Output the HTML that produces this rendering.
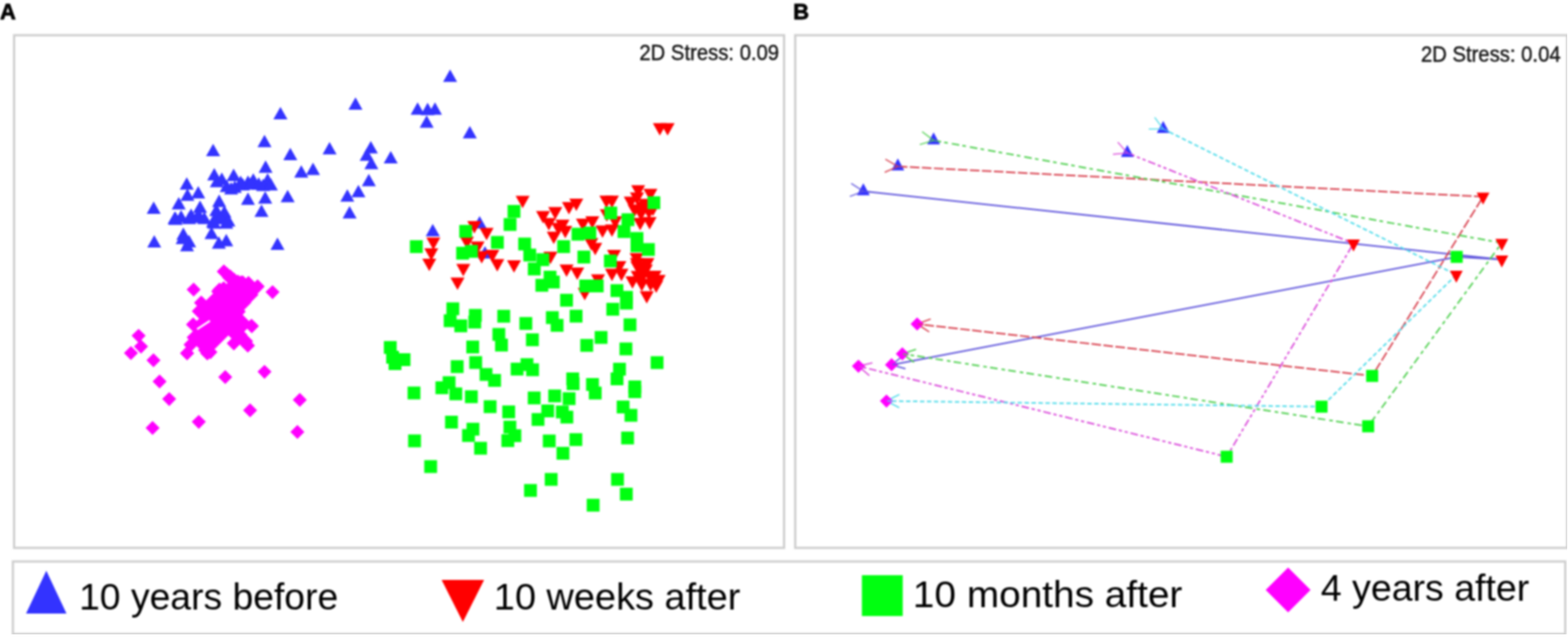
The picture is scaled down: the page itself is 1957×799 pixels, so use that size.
<!DOCTYPE html>
<html><head><meta charset="utf-8"><title>NMDS plots</title>
<style>
html,body{margin:0;padding:0;background:#fff;}
body{width:1957px;height:799px;overflow:hidden;}
svg{display:block;}
text{font-family:"Liberation Sans",Arial,sans-serif;}
</style></head><body>
<svg width="1957" height="799" viewBox="0 0 1957 799">
<rect width="1957" height="799" fill="#fff"/>
<defs><filter id="gb" x="0" y="0" width="100%" height="100%" color-interpolation-filters="sRGB"><feGaussianBlur stdDeviation="0.8"/></filter></defs>
<g filter="url(#gb)">

<text x="0" y="23.6" font-size="27.3" font-weight="bold" fill="#000" stroke="#000" stroke-width="0.9">A</text>
<text x="990" y="23.6" font-size="27.3" font-weight="bold" fill="#000" stroke="#000" stroke-width="0.9">B</text>
<g fill="none" stroke="#cecece" stroke-width="2.8">
<rect x="17.6" y="44" width="961" height="640"/>
<rect x="992.5" y="44" width="963.5" height="640"/>
<rect x="16.1" y="701" width="1937.5" height="90.5"/>
</g>
<g>
<path d="M242.8,378.0 L246.4,381.6 L239.4,388.6 L248.6,397.7 L245.4,400.8 L241.3,396.7 L232.6,405.4 L240.7,413.5 L232.9,421.2 L235.5,423.8 L229.4,429.9 L232.7,433.1 L224.8,441.0 L233.5,449.8 L242.2,441.0 L239.0,437.8 L245.0,431.8 L248.8,435.5 L247.2,437.0 L250.5,440.2 L249.8,441.0 L258.5,449.8 L261.3,447.0 L262.7,448.4 L271.4,439.6 L267.8,436.0 L285.0,418.8 L289.1,422.8 L283.1,428.8 L291.8,437.6 L299.2,430.1 L309.3,440.1 L318.1,431.4 L313.6,427.0 L315.1,425.5 L308.2,418.6 L308.8,418.0 L304.8,414.0 L308.6,410.2 L314.3,415.9 L323.1,407.2 L314.3,398.4 L311.4,401.4 L302.9,392.9 L306.7,389.0 L304.6,386.9 L313.8,377.7 L313.3,377.2 L322.6,368.0 L321.3,366.7 L330.2,357.8 L321.5,349.1 L318.0,352.5 L310.1,344.6 L307.0,347.8 L303.0,343.8 L300.5,346.2 L297.0,342.8 L295.8,344.0 L292.0,340.2 L291.6,340.6 L287.5,336.6 L287.0,337.1 L283.4,333.4 L283.0,333.8 L279.5,330.2 L270.8,339.0 L279.5,347.8 L279.8,347.4 L284.8,352.4 L282.3,354.9 L279.0,351.6 L274.0,356.6 L272.3,354.9 L263.6,363.7 L266.1,366.2 L257.2,375.0 L251.5,369.2Z " fill="#ff00ff"/>
<line x1="246" y1="411" x2="262" y2="400.5" stroke="#fff" stroke-width="2.6"/>
<polygon points="553.0,102.2 570.5,102.2 561.8,86.8" fill="#3333ff"/>
<polygon points="341.2,148.9 358.8,148.9 350.0,133.4" fill="#3333ff"/>
<polygon points="321.4,183.8 338.9,183.8 330.1,168.3" fill="#3333ff"/>
<polygon points="257.2,194.9 274.8,194.9 266.0,179.4" fill="#3333ff"/>
<polygon points="353.6,199.9 371.1,199.9 362.3,184.4" fill="#3333ff"/>
<polygon points="402.6,192.8 420.1,192.8 411.3,177.3" fill="#3333ff"/>
<polygon points="183.1,267.1 200.6,267.1 191.8,251.6" fill="#3333ff"/>
<polygon points="224.3,236.8 241.8,236.8 233.1,221.3" fill="#3333ff"/>
<polygon points="238.7,247.8 256.1,247.8 247.4,232.3" fill="#3333ff"/>
<polygon points="214.3,261.4 231.8,261.4 223.1,245.9" fill="#3333ff"/>
<polygon points="225.2,250.7 242.7,250.7 233.9,235.2" fill="#3333ff"/>
<polygon points="258.6,225.3 276.1,225.3 267.4,209.8" fill="#3333ff"/>
<polygon points="268.1,230.8 285.6,230.8 276.8,215.2" fill="#3333ff"/>
<polygon points="282.9,225.9 300.4,225.9 291.6,210.4" fill="#3333ff"/>
<polygon points="261.9,233.8 279.4,233.8 270.7,218.3" fill="#3333ff"/>
<polygon points="279.8,242.8 297.2,242.8 288.5,227.2" fill="#3333ff"/>
<polygon points="291.6,234.8 309.1,234.8 300.3,219.3" fill="#3333ff"/>
<polygon points="300.8,234.6 318.2,234.6 309.5,219.1" fill="#3333ff"/>
<polygon points="307.4,231.8 324.9,231.8 316.1,216.2" fill="#3333ff"/>
<polygon points="322.8,215.7 340.2,215.7 331.5,200.2" fill="#3333ff"/>
<polygon points="325.2,231.8 342.8,231.8 334.0,216.2" fill="#3333ff"/>
<polygon points="319.6,238.4 337.1,238.4 328.4,222.9" fill="#3333ff"/>
<polygon points="322.2,254.2 339.8,254.2 331.0,238.8" fill="#3333ff"/>
<polygon points="300.8,255.8 318.2,255.8 309.5,240.2" fill="#3333ff"/>
<polygon points="350.2,252.4 367.8,252.4 359.0,236.9" fill="#3333ff"/>
<polygon points="317.6,270.8 335.1,270.8 326.4,255.2" fill="#3333ff"/>
<polygon points="264.8,258.4 282.2,258.4 273.5,242.8" fill="#3333ff"/>
<polygon points="240.9,265.8 258.4,265.8 249.7,250.2" fill="#3333ff"/>
<polygon points="240.8,278.2 258.2,278.2 249.5,262.8" fill="#3333ff"/>
<polygon points="210.2,280.8 227.8,280.8 219.0,265.2" fill="#3333ff"/>
<polygon points="229.8,275.8 247.2,275.8 238.5,260.2" fill="#3333ff"/>
<polygon points="210.1,279.4 227.6,279.4 218.8,263.9" fill="#3333ff"/>
<polygon points="260.4,279.4 277.9,279.4 269.1,263.9" fill="#3333ff"/>
<polygon points="273.6,279.4 291.1,279.4 282.4,263.9" fill="#3333ff"/>
<polygon points="258.4,285.6 275.9,285.6 267.1,270.1" fill="#3333ff"/>
<polygon points="273.6,285.6 291.1,285.6 282.4,270.1" fill="#3333ff"/>
<polygon points="255.2,298.6 272.8,298.6 264.0,283.1" fill="#3333ff"/>
<polygon points="273.6,307.6 291.1,307.6 282.4,292.1" fill="#3333ff"/>
<polygon points="264.4,310.4 281.9,310.4 273.2,294.9" fill="#3333ff"/>
<polygon points="220.1,299.6 237.6,299.6 228.8,284.1" fill="#3333ff"/>
<polygon points="224.7,313.8 242.2,313.8 233.4,298.2" fill="#3333ff"/>
<polygon points="183.8,309.1 201.2,309.1 192.5,293.6" fill="#3333ff"/>
<polygon points="337.6,312.1 355.1,312.1 346.3,296.6" fill="#3333ff"/>
<polygon points="434.9,136.9 452.4,136.9 443.7,121.4" fill="#3333ff"/>
<polygon points="512.5,143.2 530.0,143.2 521.2,127.8" fill="#3333ff"/>
<polygon points="525.0,143.7 542.5,143.7 533.7,128.2" fill="#3333ff"/>
<polygon points="534.1,143.2 551.6,143.2 542.9,127.8" fill="#3333ff"/>
<polygon points="523.8,159.6 541.2,159.6 532.5,144.1" fill="#3333ff"/>
<polygon points="577.6,172.7 595.1,172.7 586.4,157.2" fill="#3333ff"/>
<polygon points="454.1,191.4 471.6,191.4 462.8,175.9" fill="#3333ff"/>
<polygon points="448.9,200.8 466.4,200.8 457.7,185.2" fill="#3333ff"/>
<polygon points="478.9,203.9 496.4,203.9 487.7,188.4" fill="#3333ff"/>
<polygon points="367.2,221.7 384.8,221.7 376.0,206.2" fill="#3333ff"/>
<polygon points="381.9,218.4 399.4,218.4 390.7,202.9" fill="#3333ff"/>
<polygon points="454.8,211.2 472.2,211.2 463.5,195.8" fill="#3333ff"/>
<polygon points="451.6,232.6 469.1,232.6 460.3,217.1" fill="#3333ff"/>
<polygon points="438.6,246.2 456.1,246.2 447.3,230.8" fill="#3333ff"/>
<polygon points="424.8,251.7 442.2,251.7 433.5,236.2" fill="#3333ff"/>
<polygon points="427.6,272.8 445.1,272.8 436.3,257.2" fill="#3333ff"/>
<polygon points="531.4,295.1 548.9,295.1 540.1,279.6" fill="#3333ff"/>
<polygon points="589.9,285.2 607.4,285.2 598.6,269.8" fill="#3333ff"/>
<polygon points="596.5,322.8 614.0,322.8 605.3,307.2" fill="#3333ff"/>
<polygon points="209.2,279.8 226.8,279.8 218.0,264.2" fill="#3333ff"/>
<polygon points="217.2,277.8 234.8,277.8 226.0,262.2" fill="#3333ff"/>
<polygon points="227.2,279.8 244.8,279.8 236.0,264.2" fill="#3333ff"/>
<polygon points="237.2,277.8 254.8,277.8 246.0,262.2" fill="#3333ff"/>
<polygon points="246.2,279.8 263.8,279.8 255.0,264.2" fill="#3333ff"/>
<polygon points="261.2,269.8 278.8,269.8 270.0,254.2" fill="#3333ff"/>
<polygon points="271.2,271.8 288.8,271.8 280.0,256.2" fill="#3333ff"/>
<polygon points="266.2,279.8 283.8,279.8 275.0,264.2" fill="#3333ff"/>
<polygon points="276.2,282.8 293.8,282.8 285.0,267.2" fill="#3333ff"/>
<polygon points="257.2,283.8 274.8,283.8 266.0,268.2" fill="#3333ff"/>
<polygon points="274.2,239.8 291.8,239.8 283.0,224.2" fill="#3333ff"/>
<polygon points="284.2,240.8 301.8,240.8 293.0,225.2" fill="#3333ff"/>
<polygon points="294.2,237.8 311.8,237.8 303.0,222.2" fill="#3333ff"/>
<polygon points="304.2,236.8 321.8,236.8 313.0,221.2" fill="#3333ff"/>
<polygon points="314.2,236.8 331.8,236.8 323.0,221.2" fill="#3333ff"/>
<polygon points="329.2,237.8 346.8,237.8 338.0,222.2" fill="#3333ff"/>
<polygon points="227.2,308.8 244.8,308.8 236.0,293.2" fill="#3333ff"/>
<polygon points="219.2,304.8 236.8,304.8 228.0,289.2" fill="#3333ff"/>
<polygon points="814.8,153.8 832.2,153.8 823.5,169.2" fill="#ff0000"/>
<polygon points="824.5,153.8 842.0,153.8 833.2,169.2" fill="#ff0000"/>
<polygon points="643.5,244.4 661.0,244.4 652.3,259.9" fill="#ff0000"/>
<polygon points="669.0,263.6 686.5,263.6 677.8,279.1" fill="#ff0000"/>
<polygon points="684.2,258.6 701.8,258.6 693.0,274.1" fill="#ff0000"/>
<polygon points="682.4,289.2 699.9,289.2 691.1,304.8" fill="#ff0000"/>
<polygon points="532.1,296.4 549.6,296.4 540.9,311.9" fill="#ff0000"/>
<polygon points="583.2,276.1 600.8,276.1 592.0,291.6" fill="#ff0000"/>
<polygon points="598.5,284.6 616.0,284.6 607.3,300.1" fill="#ff0000"/>
<polygon points="574.0,295.4 591.5,295.4 582.8,310.9" fill="#ff0000"/>
<polygon points="587.2,301.6 604.8,301.6 596.0,317.1" fill="#ff0000"/>
<polygon points="529.5,310.1 547.0,310.1 538.3,325.6" fill="#ff0000"/>
<polygon points="527.0,322.9 544.5,322.9 535.8,338.4" fill="#ff0000"/>
<polygon points="569.5,329.6 587.0,329.6 578.2,345.1" fill="#ff0000"/>
<polygon points="562.2,346.6 579.8,346.6 571.0,362.1" fill="#ff0000"/>
<polygon points="592.5,313.4 610.0,313.4 601.2,328.9" fill="#ff0000"/>
<polygon points="605.8,312.1 623.2,312.1 614.5,327.6" fill="#ff0000"/>
<polygon points="611.9,323.6 629.4,323.6 620.6,339.1" fill="#ff0000"/>
<polygon points="632.8,324.9 650.2,324.9 641.5,340.4" fill="#ff0000"/>
<polygon points="678.2,314.2 695.8,314.2 687.0,329.8" fill="#ff0000"/>
<polygon points="710.5,247.9 728.0,247.9 719.3,263.4" fill="#ff0000"/>
<polygon points="701.4,252.2 718.9,252.2 710.1,267.8" fill="#ff0000"/>
<polygon points="676.2,272.2 693.8,272.2 685.0,287.8" fill="#ff0000"/>
<polygon points="748.1,244.2 765.6,244.2 756.9,259.8" fill="#ff0000"/>
<polygon points="755.0,244.2 772.5,244.2 763.8,259.8" fill="#ff0000"/>
<polygon points="787.8,231.2 805.2,231.2 796.5,246.8" fill="#ff0000"/>
<polygon points="803.0,235.8 820.5,235.8 811.8,251.3" fill="#ff0000"/>
<polygon points="778.5,245.6 796.0,245.6 787.3,261.1" fill="#ff0000"/>
<polygon points="792.9,251.9 810.4,251.9 801.6,267.4" fill="#ff0000"/>
<polygon points="802.0,271.1 819.5,271.1 810.8,286.6" fill="#ff0000"/>
<polygon points="790.2,271.9 807.8,271.9 799.0,287.4" fill="#ff0000"/>
<polygon points="748.6,261.2 766.1,261.2 757.4,276.8" fill="#ff0000"/>
<polygon points="730.5,269.9 748.0,269.9 739.3,285.4" fill="#ff0000"/>
<polygon points="718.8,272.9 736.2,272.9 727.5,288.4" fill="#ff0000"/>
<polygon points="743.2,281.4 760.8,281.4 752.0,296.9" fill="#ff0000"/>
<polygon points="755.0,280.2 772.5,280.2 763.8,295.8" fill="#ff0000"/>
<polygon points="759.1,269.9 776.6,269.9 767.9,285.4" fill="#ff0000"/>
<polygon points="696.8,282.1 714.2,282.1 705.5,297.6" fill="#ff0000"/>
<polygon points="734.1,303.2 751.6,303.2 742.9,318.8" fill="#ff0000"/>
<polygon points="729.2,297.2 746.8,297.2 738.0,312.8" fill="#ff0000"/>
<polygon points="698.4,330.2 715.9,330.2 707.1,345.8" fill="#ff0000"/>
<polygon points="711.6,334.1 729.1,334.1 720.4,349.6" fill="#ff0000"/>
<polygon points="737.6,342.6 755.1,342.6 746.4,358.1" fill="#ff0000"/>
<polygon points="757.6,311.9 775.1,311.9 766.4,327.4" fill="#ff0000"/>
<polygon points="764.2,325.9 781.8,325.9 773.0,341.4" fill="#ff0000"/>
<polygon points="755.0,335.6 772.5,335.6 763.8,351.1" fill="#ff0000"/>
<polygon points="766.9,335.6 784.4,335.6 775.6,351.1" fill="#ff0000"/>
<polygon points="808.2,337.9 825.8,337.9 817.0,353.4" fill="#ff0000"/>
<polygon points="810.2,350.2 827.8,350.2 819.0,365.8" fill="#ff0000"/>
<polygon points="780.6,345.1 798.1,345.1 789.4,360.6" fill="#ff0000"/>
<polygon points="791.9,341.1 809.4,341.1 800.6,356.6" fill="#ff0000"/>
<polygon points="786.8,326.2 804.2,326.2 795.5,341.8" fill="#ff0000"/>
<polygon points="796.0,326.2 813.5,326.2 804.7,341.8" fill="#ff0000"/>
<polygon points="785.8,315.9 803.2,315.9 794.5,331.4" fill="#ff0000"/>
<polygon points="798.5,363.4 816.0,363.4 807.2,378.9" fill="#ff0000"/>
<polygon points="721.0,359.6 738.5,359.6 729.8,375.1" fill="#ff0000"/>
<polygon points="786.2,240.2 803.8,240.2 795.0,255.8" fill="#ff0000"/>
<polygon points="796.2,248.2 813.8,248.2 805.0,263.8" fill="#ff0000"/>
<polygon points="791.2,260.2 808.8,260.2 800.0,275.8" fill="#ff0000"/>
<polygon points="801.2,258.2 818.8,258.2 810.0,273.8" fill="#ff0000"/>
<polygon points="783.2,255.2 800.8,255.2 792.0,270.8" fill="#ff0000"/>
<polygon points="806.2,254.2 823.8,254.2 815.0,269.8" fill="#ff0000"/>
<polygon points="786.2,322.2 803.8,322.2 795.0,337.8" fill="#ff0000"/>
<polygon points="791.2,332.2 808.8,332.2 800.0,347.8" fill="#ff0000"/>
<polygon points="797.2,330.2 814.8,330.2 806.0,345.8" fill="#ff0000"/>
<polygon points="802.2,338.2 819.8,338.2 811.0,353.8" fill="#ff0000"/>
<polygon points="787.2,338.2 804.8,338.2 796.0,353.8" fill="#ff0000"/>
<polygon points="803.2,348.2 820.8,348.2 812.0,363.8" fill="#ff0000"/>
<polygon points="792.2,348.2 809.8,348.2 801.0,363.8" fill="#ff0000"/>
<polygon points="813.2,343.2 830.8,343.2 822.0,358.8" fill="#ff0000"/>
<polygon points="799.2,322.2 816.8,322.2 808.0,337.8" fill="#ff0000"/>
<polygon points="688.2,278.2 705.8,278.2 697.0,293.8" fill="#ff0000"/>
<polygon points="693.2,274.2 710.8,274.2 702.0,289.8" fill="#ff0000"/>
<rect x="633.5" y="255.9" width="16.0" height="16.0" fill="#00ff10"/>
<rect x="628.6" y="272.3" width="16.0" height="16.0" fill="#00ff10"/>
<rect x="511.6" y="299.9" width="16.0" height="16.0" fill="#00ff10"/>
<rect x="573.2" y="280.8" width="16.0" height="16.0" fill="#00ff10"/>
<rect x="612.8" y="294.6" width="16.0" height="16.0" fill="#00ff10"/>
<rect x="646.8" y="296.6" width="16.0" height="16.0" fill="#00ff10"/>
<rect x="569.4" y="308.1" width="16.0" height="16.0" fill="#00ff10"/>
<rect x="580.4" y="305.8" width="16.0" height="16.0" fill="#00ff10"/>
<rect x="653.2" y="310.4" width="16.0" height="16.0" fill="#00ff10"/>
<rect x="658.8" y="327.8" width="16.0" height="16.0" fill="#00ff10"/>
<rect x="669.5" y="316.2" width="16.0" height="16.0" fill="#00ff10"/>
<rect x="678.5" y="338.0" width="16.0" height="16.0" fill="#00ff10"/>
<rect x="668.3" y="348.2" width="16.0" height="16.0" fill="#00ff10"/>
<rect x="682.6" y="344.1" width="16.0" height="16.0" fill="#00ff10"/>
<rect x="808.1" y="245.1" width="16.0" height="16.0" fill="#00ff10"/>
<rect x="754.3" y="257.9" width="16.0" height="16.0" fill="#00ff10"/>
<rect x="775.7" y="266.3" width="16.0" height="16.0" fill="#00ff10"/>
<rect x="770.8" y="281.1" width="16.0" height="16.0" fill="#00ff10"/>
<rect x="713.4" y="284.4" width="16.0" height="16.0" fill="#00ff10"/>
<rect x="728.2" y="282.9" width="16.0" height="16.0" fill="#00ff10"/>
<rect x="695.5" y="299.9" width="16.0" height="16.0" fill="#00ff10"/>
<rect x="720.7" y="312.9" width="16.0" height="16.0" fill="#00ff10"/>
<rect x="753.8" y="317.8" width="16.0" height="16.0" fill="#00ff10"/>
<rect x="787.0" y="289.7" width="16.0" height="16.0" fill="#00ff10"/>
<rect x="801.3" y="303.5" width="16.0" height="16.0" fill="#00ff10"/>
<rect x="787.0" y="298.9" width="16.0" height="16.0" fill="#00ff10"/>
<rect x="723.1" y="349.0" width="16.0" height="16.0" fill="#00ff10"/>
<rect x="737.4" y="349.0" width="16.0" height="16.0" fill="#00ff10"/>
<rect x="762.0" y="354.8" width="16.0" height="16.0" fill="#00ff10"/>
<rect x="699.1" y="366.8" width="16.0" height="16.0" fill="#00ff10"/>
<rect x="711.0" y="386.7" width="16.0" height="16.0" fill="#00ff10"/>
<rect x="681.4" y="388.5" width="16.0" height="16.0" fill="#00ff10"/>
<rect x="687.3" y="398.2" width="16.0" height="16.0" fill="#00ff10"/>
<rect x="756.8" y="378.1" width="16.0" height="16.0" fill="#00ff10"/>
<rect x="773.9" y="363.2" width="16.0" height="16.0" fill="#00ff10"/>
<rect x="773.9" y="370.4" width="16.0" height="16.0" fill="#00ff10"/>
<rect x="778.3" y="397.5" width="16.0" height="16.0" fill="#00ff10"/>
<rect x="742.2" y="413.3" width="16.0" height="16.0" fill="#00ff10"/>
<rect x="724.3" y="423.2" width="16.0" height="16.0" fill="#00ff10"/>
<rect x="773.2" y="427.6" width="16.0" height="16.0" fill="#00ff10"/>
<rect x="557.2" y="377.5" width="16.0" height="16.0" fill="#00ff10"/>
<rect x="553.8" y="392.4" width="16.0" height="16.0" fill="#00ff10"/>
<rect x="567.1" y="398.8" width="16.0" height="16.0" fill="#00ff10"/>
<rect x="585.3" y="385.7" width="16.0" height="16.0" fill="#00ff10"/>
<rect x="584.5" y="394.1" width="16.0" height="16.0" fill="#00ff10"/>
<rect x="620.7" y="386.8" width="16.0" height="16.0" fill="#00ff10"/>
<rect x="648.3" y="395.8" width="16.0" height="16.0" fill="#00ff10"/>
<rect x="614.6" y="409.5" width="16.0" height="16.0" fill="#00ff10"/>
<rect x="617.9" y="422.8" width="16.0" height="16.0" fill="#00ff10"/>
<rect x="656.5" y="416.2" width="16.0" height="16.0" fill="#00ff10"/>
<rect x="582.0" y="425.2" width="16.0" height="16.0" fill="#00ff10"/>
<rect x="479.1" y="425.8" width="16.0" height="16.0" fill="#00ff10"/>
<rect x="482.0" y="438.0" width="16.0" height="16.0" fill="#00ff10"/>
<rect x="485.0" y="446.0" width="16.0" height="16.0" fill="#00ff10"/>
<rect x="496.3" y="441.0" width="16.0" height="16.0" fill="#00ff10"/>
<rect x="562.6" y="449.7" width="16.0" height="16.0" fill="#00ff10"/>
<rect x="585.7" y="444.6" width="16.0" height="16.0" fill="#00ff10"/>
<rect x="598.6" y="459.5" width="16.0" height="16.0" fill="#00ff10"/>
<rect x="609.3" y="466.9" width="16.0" height="16.0" fill="#00ff10"/>
<rect x="637.4" y="452.8" width="16.0" height="16.0" fill="#00ff10"/>
<rect x="649.7" y="447.2" width="16.0" height="16.0" fill="#00ff10"/>
<rect x="656.7" y="453.6" width="16.0" height="16.0" fill="#00ff10"/>
<rect x="552.5" y="469.7" width="16.0" height="16.0" fill="#00ff10"/>
<rect x="543.5" y="476.1" width="16.0" height="16.0" fill="#00ff10"/>
<rect x="560.9" y="483.7" width="16.0" height="16.0" fill="#00ff10"/>
<rect x="508.7" y="482.6" width="16.0" height="16.0" fill="#00ff10"/>
<rect x="580.3" y="487.3" width="16.0" height="16.0" fill="#00ff10"/>
<rect x="603.7" y="499.7" width="16.0" height="16.0" fill="#00ff10"/>
<rect x="626.9" y="506.2" width="16.0" height="16.0" fill="#00ff10"/>
<rect x="658.7" y="488.8" width="16.0" height="16.0" fill="#00ff10"/>
<rect x="675.6" y="505.0" width="16.0" height="16.0" fill="#00ff10"/>
<rect x="555.5" y="519.0" width="16.0" height="16.0" fill="#00ff10"/>
<rect x="582.3" y="527.8" width="16.0" height="16.0" fill="#00ff10"/>
<rect x="576.7" y="535.7" width="16.0" height="16.0" fill="#00ff10"/>
<rect x="591.8" y="551.6" width="16.0" height="16.0" fill="#00ff10"/>
<rect x="509.4" y="542.4" width="16.0" height="16.0" fill="#00ff10"/>
<rect x="529.5" y="574.5" width="16.0" height="16.0" fill="#00ff10"/>
<rect x="628.4" y="525.2" width="16.0" height="16.0" fill="#00ff10"/>
<rect x="634.6" y="535.9" width="16.0" height="16.0" fill="#00ff10"/>
<rect x="625.8" y="542.1" width="16.0" height="16.0" fill="#00ff10"/>
<rect x="663.5" y="515.7" width="16.0" height="16.0" fill="#00ff10"/>
<rect x="812.1" y="444.7" width="16.0" height="16.0" fill="#00ff10"/>
<rect x="765.2" y="452.9" width="16.0" height="16.0" fill="#00ff10"/>
<rect x="762.1" y="465.0" width="16.0" height="16.0" fill="#00ff10"/>
<rect x="784.3" y="475.0" width="16.0" height="16.0" fill="#00ff10"/>
<rect x="784.3" y="481.0" width="16.0" height="16.0" fill="#00ff10"/>
<rect x="706.8" y="465.0" width="16.0" height="16.0" fill="#00ff10"/>
<rect x="707.3" y="471.0" width="16.0" height="16.0" fill="#00ff10"/>
<rect x="731.5" y="472.0" width="16.0" height="16.0" fill="#00ff10"/>
<rect x="734.9" y="482.7" width="16.0" height="16.0" fill="#00ff10"/>
<rect x="684.3" y="486.3" width="16.0" height="16.0" fill="#00ff10"/>
<rect x="702.3" y="489.7" width="16.0" height="16.0" fill="#00ff10"/>
<rect x="693.8" y="506.3" width="16.0" height="16.0" fill="#00ff10"/>
<rect x="769.7" y="500.1" width="16.0" height="16.0" fill="#00ff10"/>
<rect x="699.5" y="512.7" width="16.0" height="16.0" fill="#00ff10"/>
<rect x="779.5" y="510.5" width="16.0" height="16.0" fill="#00ff10"/>
<rect x="775.3" y="538.8" width="16.0" height="16.0" fill="#00ff10"/>
<rect x="677.5" y="542.5" width="16.0" height="16.0" fill="#00ff10"/>
<rect x="710.7" y="540.8" width="16.0" height="16.0" fill="#00ff10"/>
<rect x="694.6" y="557.9" width="16.0" height="16.0" fill="#00ff10"/>
<rect x="679.9" y="590.5" width="16.0" height="16.0" fill="#00ff10"/>
<rect x="654.1" y="604.3" width="16.0" height="16.0" fill="#00ff10"/>
<rect x="762.7" y="590.5" width="16.0" height="16.0" fill="#00ff10"/>
<rect x="773.7" y="608.9" width="16.0" height="16.0" fill="#00ff10"/>
<rect x="732.3" y="622.7" width="16.0" height="16.0" fill="#00ff10"/>
<polygon points="190.4,525.5 199.2,534.3 190.4,543.0 181.7,534.3" fill="#ff00ff"/>
<polygon points="241.7,352.8 250.4,361.5 241.7,370.2 232.9,361.5" fill="#ff00ff"/>
<polygon points="340.2,355.9 348.9,364.6 340.2,373.4 331.4,364.6" fill="#ff00ff"/>
<polygon points="279.3,330.2 288.1,339.0 279.3,347.8 270.6,339.0" fill="#ff00ff"/>
<polygon points="310.1,345.2 318.9,354.0 310.1,362.8 301.4,354.0" fill="#ff00ff"/>
<polygon points="321.5,348.8 330.2,357.5 321.5,366.2 312.8,357.5" fill="#ff00ff"/>
<polygon points="286.0,337.8 294.8,346.5 286.0,355.2 277.2,346.5" fill="#ff00ff"/>
<polygon points="293.6,342.2 302.4,351.0 293.6,359.8 284.9,351.0" fill="#ff00ff"/>
<polygon points="301.0,343.8 309.8,352.5 301.0,361.2 292.2,352.5" fill="#ff00ff"/>
<polygon points="274.0,352.8 282.8,361.5 274.0,370.2 265.2,361.5" fill="#ff00ff"/>
<polygon points="278.6,352.1 287.4,360.8 278.6,369.6 269.9,360.8" fill="#ff00ff"/>
<polygon points="250.8,369.2 259.6,378.0 250.8,386.8 242.1,378.0" fill="#ff00ff"/>
<polygon points="248.5,379.9 257.2,388.6 248.5,397.4 239.8,388.6" fill="#ff00ff"/>
<polygon points="241.0,396.2 249.8,405.0 241.0,413.8 232.2,405.0" fill="#ff00ff"/>
<polygon points="238.0,421.9 246.8,430.6 238.0,439.4 229.2,430.6" fill="#ff00ff"/>
<polygon points="233.5,432.2 242.2,441.0 233.5,449.8 224.8,441.0" fill="#ff00ff"/>
<polygon points="259.0,432.2 267.8,441.0 259.0,449.8 250.2,441.0" fill="#ff00ff"/>
<polygon points="297.3,379.9 306.1,388.6 297.3,397.4 288.6,388.6" fill="#ff00ff"/>
<polygon points="313.8,397.9 322.6,406.6 313.8,415.4 305.1,406.6" fill="#ff00ff"/>
<polygon points="292.1,419.6 300.9,428.3 292.1,437.1 283.4,428.3" fill="#ff00ff"/>
<polygon points="309.3,422.6 318.1,431.4 309.3,440.1 300.6,431.4" fill="#ff00ff"/>
<polygon points="307.1,417.4 315.9,426.1 307.1,434.9 298.4,426.1" fill="#ff00ff"/>
<polygon points="316.1,352.8 324.9,361.5 316.1,370.2 307.4,361.5" fill="#ff00ff"/>
<polygon points="173.0,410.4 181.8,419.1 173.0,427.9 164.2,419.1" fill="#ff00ff"/>
<polygon points="176.0,423.9 184.8,432.6 176.0,441.4 167.2,432.6" fill="#ff00ff"/>
<polygon points="163.4,431.9 172.2,440.7 163.4,449.4 154.7,440.7" fill="#ff00ff"/>
<polygon points="191.6,440.9 200.3,449.7 191.6,458.4 182.8,449.7" fill="#ff00ff"/>
<polygon points="199.2,467.4 207.9,476.2 199.2,484.9 190.4,476.2" fill="#ff00ff"/>
<polygon points="211.2,489.4 219.9,498.1 211.2,506.9 202.4,498.1" fill="#ff00ff"/>
<polygon points="248.1,517.9 256.9,526.6 248.1,535.4 239.3,526.6" fill="#ff00ff"/>
<polygon points="281.1,462.1 289.9,470.8 281.1,479.6 272.4,470.8" fill="#ff00ff"/>
<polygon points="330.1,455.4 338.9,464.1 330.1,472.9 321.4,464.1" fill="#ff00ff"/>
<polygon points="312.1,503.5 320.9,512.2 312.1,521.0 303.4,512.2" fill="#ff00ff"/>
<polygon points="374.2,490.6 382.9,499.3 374.2,508.1 365.4,499.3" fill="#ff00ff"/>
<polygon points="371.2,530.5 379.9,539.2 371.2,548.0 362.4,539.2" fill="#ff00ff"/>
<polygon points="272.8,355.4 281.6,364.2 272.8,372.9 264.1,364.2" fill="#ff00ff"/>
<polygon points="279.3,351.2 288.1,360.0 279.3,368.8 270.6,360.0" fill="#ff00ff"/>
</g>
<path d="M1077.5,238.8 L1874.4,324.1 L1818.1,320.7 L1112.8,455.4" fill="none" stroke="#6258dc" stroke-width="2.0" stroke-linejoin="round"/>
<line x1="1127.0" y1="444.4" x2="1112.8" y2="455.4" stroke="#6258dc" stroke-width="1.7"/>
<line x1="1130.1" y1="460.4" x2="1112.8" y2="455.4" stroke="#6258dc" stroke-width="1.7"/>
<path d="M1120.6,207.8 L1851.0,245.6 L1712.6,469.3 L1144.7,404.5" fill="none" stroke="#d8404e" stroke-width="2.0" stroke-dasharray="12 3" stroke-linejoin="round"/>
<line x1="1161.6" y1="398.2" x2="1144.7" y2="404.5" stroke="#d8404e" stroke-width="1.7"/>
<line x1="1159.7" y1="414.4" x2="1144.7" y2="404.5" stroke="#d8404e" stroke-width="1.7"/>
<path d="M1165.2,175.3 L1874.4,303.3 L1707.6,532.2 L1126.2,441.7" fill="none" stroke="#50d050" stroke-width="2.0" stroke-dasharray="9.5 4 4.5 5" stroke-linejoin="round"/>
<line x1="1143.3" y1="436.1" x2="1126.2" y2="441.7" stroke="#50d050" stroke-width="1.7"/>
<line x1="1140.8" y1="452.2" x2="1126.2" y2="441.7" stroke="#50d050" stroke-width="1.7"/>
<path d="M1407.0,191.0 L1689.3,303.9 L1531.0,570.2 L1071.4,457.1" fill="none" stroke="#da4ada" stroke-width="2.0" stroke-dasharray="9.5 3.5 4 3.5 4 3.5" stroke-linejoin="round"/>
<line x1="1088.9" y1="453.0" x2="1071.4" y2="457.1" stroke="#da4ada" stroke-width="1.7"/>
<line x1="1085.0" y1="468.9" x2="1071.4" y2="457.1" stroke="#da4ada" stroke-width="1.7"/>
<path d="M1451.8,161.0 L1817.6,343.1 L1649.4,507.7 L1106.4,500.6" fill="none" stroke="#50dcea" stroke-width="2.0" stroke-dasharray="5.5 3.2" stroke-linejoin="round"/>
<line x1="1122.5" y1="492.6" x2="1106.4" y2="500.6" stroke="#50dcea" stroke-width="1.7"/>
<line x1="1122.3" y1="509.0" x2="1106.4" y2="500.6" stroke="#50dcea" stroke-width="1.7"/>
<polygon points="1069.5,243.8 1085.5,243.8 1077.5,228.8" fill="#3333ff"/>
<polygon points="1112.6,212.8 1128.6,212.8 1120.6,197.8" fill="#3333ff"/>
<polygon points="1157.2,180.3 1173.2,180.3 1165.2,165.3" fill="#3333ff"/>
<polygon points="1399.0,196.0 1415.0,196.0 1407.0,181.0" fill="#3333ff"/>
<polygon points="1443.8,166.0 1459.8,166.0 1451.8,151.0" fill="#3333ff"/>
<line x1="1060.7" y1="245.2" x2="1077.5" y2="238.8" stroke="#6258dc" stroke-width="1.7" opacity="0.85"/>
<line x1="1062.4" y1="229.0" x2="1077.5" y2="238.8" stroke="#6258dc" stroke-width="1.7" opacity="0.85"/>
<line x1="1077.5" y1="238.8" x2="1086.4" y2="239.8" stroke="#6258dc" stroke-width="2.0" opacity="0.6"/>
<line x1="1104.2" y1="215.1" x2="1120.6" y2="207.8" stroke="#d8404e" stroke-width="1.7" opacity="0.85"/>
<line x1="1105.0" y1="198.8" x2="1120.6" y2="207.8" stroke="#d8404e" stroke-width="1.7" opacity="0.85"/>
<line x1="1120.6" y1="207.8" x2="1129.6" y2="208.3" stroke="#d8404e" stroke-width="2.0" opacity="0.6"/>
<line x1="1148.0" y1="180.5" x2="1165.2" y2="175.3" stroke="#50d050" stroke-width="1.7" opacity="0.85"/>
<line x1="1150.9" y1="164.4" x2="1165.2" y2="175.3" stroke="#50d050" stroke-width="1.7" opacity="0.85"/>
<line x1="1165.2" y1="175.3" x2="1174.1" y2="176.9" stroke="#50d050" stroke-width="2.0" opacity="0.6"/>
<line x1="1389.1" y1="192.6" x2="1407.0" y2="191.0" stroke="#da4ada" stroke-width="1.7" opacity="0.85"/>
<line x1="1395.1" y1="177.5" x2="1407.0" y2="191.0" stroke="#da4ada" stroke-width="1.7" opacity="0.85"/>
<line x1="1407.0" y1="191.0" x2="1415.4" y2="194.3" stroke="#da4ada" stroke-width="2.0" opacity="0.6"/>
<line x1="1433.8" y1="161.2" x2="1451.8" y2="161.0" stroke="#50dcea" stroke-width="1.7" opacity="0.85"/>
<line x1="1441.1" y1="146.5" x2="1451.8" y2="161.0" stroke="#50dcea" stroke-width="1.7" opacity="0.85"/>
<line x1="1451.8" y1="161.0" x2="1459.9" y2="165.0" stroke="#50dcea" stroke-width="2.0" opacity="0.6"/>
<polygon points="1866.4,319.1 1882.4,319.1 1874.4,334.1" fill="#ff0000"/>
<rect x="1810.6" y="313.2" width="15" height="15" fill="#00ff10"/>
<polygon points="1112.8,447.1 1121.0,455.4 1112.8,463.6 1104.5,455.4" fill="#ff00ff"/>
<polygon points="1843.0,240.6 1859.0,240.6 1851.0,255.6" fill="#ff0000"/>
<rect x="1705.1" y="461.8" width="15" height="15" fill="#00ff10"/>
<polygon points="1144.7,396.2 1153.0,404.5 1144.7,412.8 1136.5,404.5" fill="#ff00ff"/>
<polygon points="1866.4,298.3 1882.4,298.3 1874.4,313.3" fill="#ff0000"/>
<rect x="1700.1" y="524.7" width="15" height="15" fill="#00ff10"/>
<polygon points="1126.2,433.4 1134.5,441.7 1126.2,449.9 1118.0,441.7" fill="#ff00ff"/>
<polygon points="1681.3,298.9 1697.3,298.9 1689.3,313.9" fill="#ff0000"/>
<rect x="1523.5" y="562.7" width="15" height="15" fill="#00ff10"/>
<polygon points="1071.4,448.9 1079.7,457.1 1071.4,465.4 1063.2,457.1" fill="#ff00ff"/>
<polygon points="1809.6,338.1 1825.6,338.1 1817.6,353.1" fill="#ff0000"/>
<rect x="1641.9" y="500.2" width="15" height="15" fill="#00ff10"/>
<polygon points="1106.4,492.4 1114.7,500.6 1106.4,508.9 1098.2,500.6" fill="#ff00ff"/>
<line x1="1113.8" y1="455.2" x2="1120.7" y2="453.9" stroke="#6258dc" stroke-width="2.0" opacity="0.8"/>
<line x1="1145.7" y1="404.6" x2="1152.6" y2="405.4" stroke="#d8404e" stroke-width="2.0" opacity="0.8"/>
<line x1="1127.2" y1="441.9" x2="1134.1" y2="442.9" stroke="#50d050" stroke-width="2.0" opacity="0.8"/>
<line x1="1072.4" y1="457.3" x2="1079.2" y2="459.0" stroke="#da4ada" stroke-width="2.0" opacity="0.8"/>
<line x1="1107.4" y1="500.6" x2="1114.4" y2="500.7" stroke="#50dcea" stroke-width="2.0" opacity="0.8"/>
<polygon points="32.5,766.0 83.0,766.0 57.8,712.5" fill="#3333ff"/>
<polygon points="551.2,723.9 604.2,723.9 577.7,776.6" fill="#ff0000"/>
<rect x="1075.7" y="718.1" width="51" height="51" fill="#00ff10"/>
<polygon points="1607.7,708.6 1635.7,736.6 1607.7,764.6 1579.7,736.6" fill="#ff00ff"/>
<text x="98.73" y="761.20" font-size="45.50" fill="#000" textLength="323.40" lengthAdjust="spacingAndGlyphs">10 years before</text>
<text x="616.35" y="760.50" font-size="45.50" fill="#000" textLength="307.66" lengthAdjust="spacingAndGlyphs">10 weeks after</text>
<text x="1139.35" y="757.90" font-size="45.50" fill="#000" textLength="336.37" lengthAdjust="spacingAndGlyphs">10 months after</text>
<text x="1648.59" y="749.50" font-size="45.50" fill="#000" textLength="260.02" lengthAdjust="spacingAndGlyphs">4 years after</text>
<text x="797.99" y="75.20" font-size="27.20" fill="#1a1a1a" stroke="#000" stroke-width="0.45" textLength="174.43" lengthAdjust="spacingAndGlyphs">2D Stress: 0.09</text>
<text x="1773.39" y="77.10" font-size="27.20" fill="#1a1a1a" stroke="#000" stroke-width="0.45" textLength="174.43" lengthAdjust="spacingAndGlyphs">2D Stress: 0.04</text>
</g></svg></body></html>
